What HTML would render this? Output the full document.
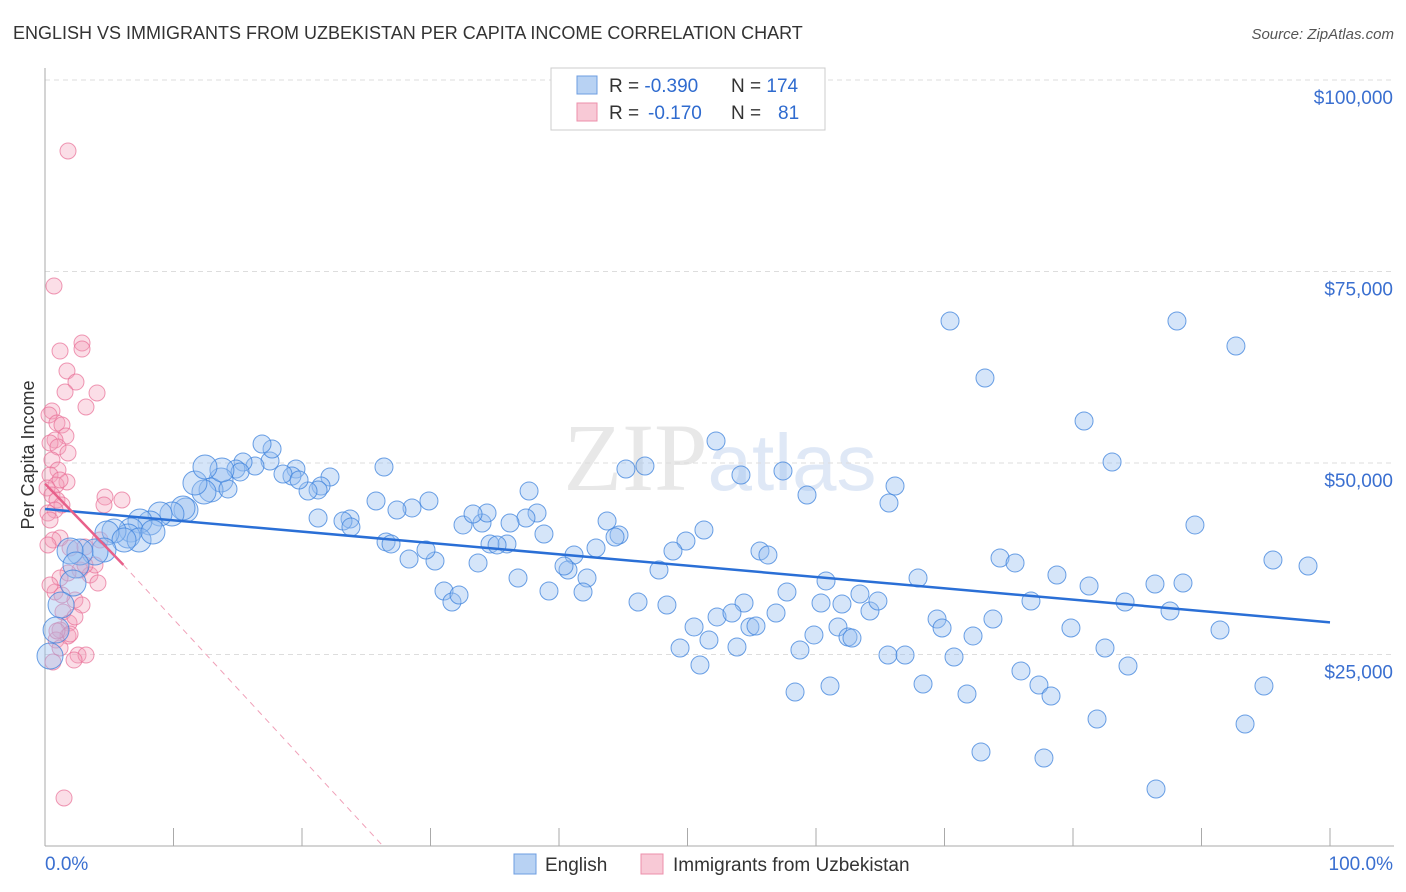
<!DOCTYPE html>
<html><head><meta charset="utf-8"><style>
body{margin:0;background:#fff;font-family:"Liberation Sans",sans-serif}
svg{display:block}
</style></head><body>
<svg id="chart" width="1406" height="892" font-family="Liberation Sans, sans-serif">
<text x="13" y="39" font-size="18" fill="#333">ENGLISH VS IMMIGRANTS FROM UZBEKISTAN PER CAPITA INCOME CORRELATION CHART</text>
<text x="1394" y="39" font-size="15" fill="#555" font-style="italic" text-anchor="end">Source: ZipAtlas.com</text>
<text x="720" y="490" font-size="96" fill="#e8e8e8" text-anchor="middle" font-family="Liberation Serif, serif">ZIP<tspan fill="#dfe8f6" font-family="Liberation Sans, sans-serif" font-size="80">atlas</tspan></text>
<g id="grid"></g>
<g id="axes"></g>
<text transform="translate(34,455) rotate(-90)" font-size="18" fill="#333" text-anchor="middle">Per Capita Income</text>
<g id="pink"></g>
<g id="blue"></g>
<g id="trends"></g>
<g>
<rect x="551" y="68" width="274" height="62" fill="#fff" stroke="#ccc"/>
<rect x="577" y="76" width="20" height="18" fill="#b8d2f3" stroke="#6d9de0"/>
<rect x="577" y="103" width="20" height="18" fill="#f8c9d6" stroke="#ec8fab"/>
<text x="609" y="92" font-size="19" fill="#333">R = <tspan fill="#2f6bcf">-0.390</tspan><tspan x="731">N = </tspan><tspan fill="#2f6bcf">174</tspan></text>
<text x="609" y="119" font-size="19" fill="#333">R = <tspan x="648" fill="#2f6bcf">-0.170</tspan><tspan x="731">N = </tspan><tspan x="778" fill="#2f6bcf">81</tspan></text>
</g>
<g>
<rect x="514" y="854" width="22" height="20" fill="#b8d2f3" stroke="#6d9de0"/>
<text x="545" y="871" font-size="19" fill="#333">English</text>
<rect x="641" y="854" width="22" height="20" fill="#f8c9d6" stroke="#ec8fab"/>
<text x="673" y="871" font-size="19" fill="#333">Immigrants from Uzbekistan</text>
</g>
</svg>
<script>
const yTicks=[25,50,75,100];
const yTickLabels=["$25,000","$50,000","$75,000","$100,000"];
const xTicks=[0,10,20,30,40,50,60,70,80,90,100];
const bluePx=[[950,321],[1177,321],[1236,346],[985,378],[1084,421],[1112,462],[716,441],[645,466],[626,469],[783,471],[741,475],[807,495],[895,486],[889,503],[1195,525],[1273,560],[1308,566],[1000,558],[1015,563],[918,578],[1057,575],[1089,586],[1155,584],[1183,583],[1031,601],[1125,602],[1170,611],[1220,630],[1071,628],[1105,648],[1128,666],[1264,686],[1021,671],[1039,685],[1051,696],[967,694],[923,684],[981,752],[1044,758],[1097,719],[1156,789],[1245,724],[993,619],[937,619],[942,628],[973,636],[954,657],[888,655],[905,655],[870,611],[878,601],[860,594],[842,604],[826,581],[821,603],[787,592],[776,613],[744,603],[704,530],[686,541],[673,551],[659,570],[638,602],[667,605],[717,617],[694,627],[709,640],[732,613],[750,627],[756,626],[737,647],[680,648],[700,665],[800,650],[814,635],[838,627],[848,637],[852,638],[830,686],[795,692],[760,551],[768,555],[607,521],[619,535],[615,537],[596,548],[574,555],[568,570],[564,566],[587,578],[583,592],[549,591],[529,491],[537,513],[526,518],[544,534],[510,523],[507,544],[490,544],[497,545],[482,523],[463,525],[487,513],[473,514],[478,563],[518,578],[444,591],[452,602],[459,595],[435,561],[409,559],[386,542],[391,544],[412,508],[397,510],[429,501],[376,501],[384,467],[350,519],[343,521],[351,527],[330,477],[321,486],[318,490],[308,491],[296,469],[292,476],[283,474],[299,480],[270,461],[272,449],[262,444],[255,466],[243,462],[236,469],[240,472],[221,480],[211,490],[204,492],[195,483],[228,489],[222,470],[205,467],[186,510],[183,508],[172,514],[160,514],[150,523],[140,521],[131,530],[128,536],[114,531],[107,533],[139,540],[153,532],[124,540],[104,550],[95,552],[80,552],[70,551],[76,565],[73,583],[61,605],[56,630],[50,656],[318,518],[426,550]];
const pinkPx=[[68,151],[54,286],[60,351],[82,343],[82,349],[67,371],[76,382],[97,393],[65,392],[86,407],[52,411],[49,415],[57,423],[62,425],[66,436],[55,440],[50,443],[58,447],[68,453],[52,460],[58,470],[50,475],[67,482],[56,485],[60,480],[47,488],[52,495],[57,500],[62,505],[55,510],[48,513],[50,520],[105,497],[122,500],[104,505],[60,538],[53,540],[48,545],[70,548],[85,547],[100,540],[80,570],[68,573],[60,578],[90,575],[98,583],[55,592],[75,600],[82,605],[63,612],[69,623],[75,617],[60,630],[68,636],[70,634],[56,640],[60,648],[78,655],[86,655],[53,662],[64,798],[57,631],[74,660],[62,595],[50,585],[95,565],[85,565]];
// data values (percent, $k) derived from reading the picture
const blueX=bluePx.map(p=>+((p[0]-45)/12.85).toFixed(2));
const blueY=bluePx.map(p=>+((846-p[1])/7.66).toFixed(2));
const pinkX=pinkPx.map(p=>+((p[0]-45)/12.85).toFixed(2));
const pinkY=pinkPx.map(p=>+((846-p[1])/7.66).toFixed(2));
const blueTrend=[[0,44.0],[100,29.2]];
const pinkTrend=[[0,47.3],[6.1,36.7]];
const pinkTrendExt=[[6.1,36.7],[26.3,0]];

const X=v=>45+v*12.85, Y=v=>846-v*7.66;
const NS="http://www.w3.org/2000/svg";
function mk(t,a,parent){const e=document.createElementNS(NS,t);for(const k in a)e.setAttribute(k,a[k]);parent.appendChild(e);return e;}
const grid=document.getElementById('grid'),axes=document.getElementById('axes');
yTicks.forEach((t,i)=>{
  const g=mk('line',{x1:45,x2:1394,y1:Y(t),y2:Y(t),stroke:'#ddd','stroke-dasharray':'5,4'},grid);
  
  
  const l=mk('text',{x:1393,y:Y(t)+24,'font-size':19,fill:'#3a6fd0','text-anchor':'end'},axes);
  l.textContent=yTickLabels[i];
  
  
});
const yl=mk('line',{x1:45,x2:45,y1:68,y2:846,stroke:'#aaa'},axes);


const xl=mk('line',{x1:45,x2:1394,y1:846,y2:846,stroke:'#aaa'},axes);


xTicks.forEach(t=>{
  const k=mk('line',{x1:X(t),x2:X(t),y1:828,y2:846,stroke:'#aaa'},axes);
  
  
});
const x0=mk('text',{x:45,y:870,'font-size':19,fill:'#3a6fd0'},axes);x0.textContent='0.0%';


const x1=mk('text',{x:1393,y:870,'font-size':19,fill:'#3a6fd0','text-anchor':'end'},axes);x1.textContent='100.0%';


const pg=document.getElementById('pink');
pinkX.forEach((x,i)=>{
  const c=mk('circle',{cx:X(x),cy:Y(pinkY[i]),r:8,fill:'rgba(243,160,185,0.35)',stroke:'rgba(232,110,150,0.7)','stroke-width':1},pg);
  
  
});
const bg=document.getElementById('blue');
blueX.forEach((x,i)=>{
  const r=x<4?13:(x<14?12:9);
  const c=mk('circle',{cx:X(x),cy:Y(blueY[i]),r:r,fill:'rgba(150,190,240,0.4)',stroke:'rgba(60,130,220,0.75)','stroke-width':1},bg);
  
  
});
const tg=document.getElementById('trends');
const bt=mk('line',{x1:X(blueTrend[0][0]),y1:Y(blueTrend[0][1]),x2:X(blueTrend[1][0]),y2:Y(blueTrend[1][1]),stroke:'#2a6fd6','stroke-width':2.5},tg);


const pt=mk('line',{x1:X(pinkTrend[0][0]),y1:Y(pinkTrend[0][1]),x2:X(pinkTrend[1][0]),y2:Y(pinkTrend[1][1]),stroke:'#e8608a','stroke-width':2.5},tg);


const pe=mk('line',{x1:X(pinkTrendExt[0][0]),y1:Y(pinkTrendExt[0][1]),x2:X(pinkTrendExt[1][0]),y2:Y(pinkTrendExt[1][1]),stroke:'#f0a0b8','stroke-width':1,'stroke-dasharray':'6,5'},tg);


</script>
</body></html>
